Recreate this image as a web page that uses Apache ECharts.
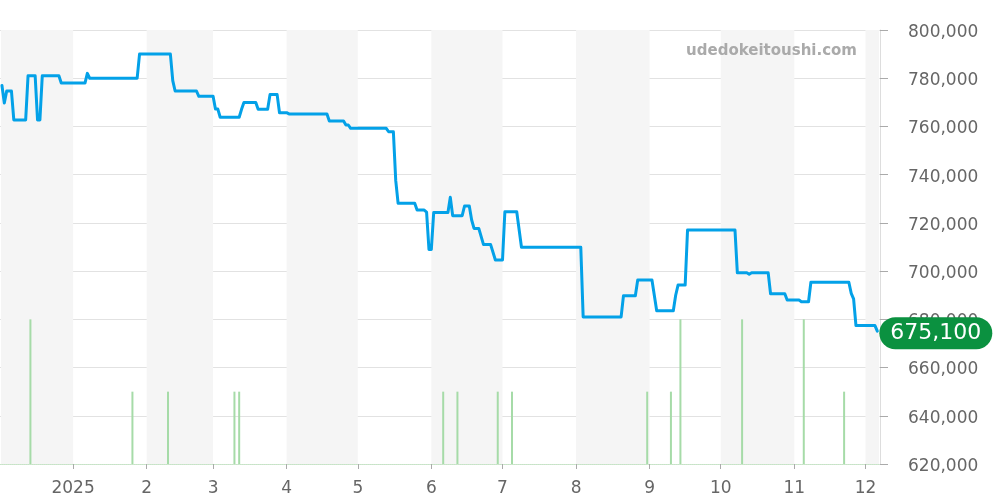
<!DOCTYPE html>
<html>
<head>
<meta charset="utf-8">
<script src="https://cdn.jsdelivr.net/npm/echarts@6/dist/echarts.min.js"></script>
<style>html,body{margin:0;padding:0;background:#fff}#c{width:1000px;height:500px}</style>
</head>
<body>
<div id="c"></div>
<script>
// ---- data ----
const priceDates = [
'2024-12-02','2024-12-03','2024-12-04','2024-12-06','2024-12-07','2024-12-12','2024-12-13','2024-12-16',
'2024-12-17','2024-12-18','2024-12-19','2024-12-26','2024-12-27','2025-01-06','2025-01-07','2025-01-08',
'2025-01-28','2025-01-29','2025-02-11','2025-02-12','2025-02-13','2025-02-22','2025-02-23','2025-03-01',
'2025-03-02','2025-03-03','2025-03-04','2025-03-12','2025-03-13','2025-03-14','2025-03-19','2025-03-20',
'2025-03-24','2025-03-25','2025-03-28','2025-03-29','2025-04-01','2025-04-02','2025-04-18','2025-04-19',
'2025-04-25','2025-04-26','2025-04-27','2025-04-28','2025-05-13','2025-05-14','2025-05-16','2025-05-17',
'2025-05-18','2025-05-25','2025-05-26','2025-05-29','2025-05-30','2025-05-31','2025-06-01','2025-06-02',
'2025-06-08','2025-06-09','2025-06-10','2025-06-14','2025-06-15','2025-06-17','2025-06-18','2025-06-19',
'2025-06-21','2025-06-23','2025-06-26','2025-06-28','2025-07-01','2025-07-02','2025-07-07','2025-07-09',
'2025-08-03','2025-08-04','2025-08-20','2025-08-21','2025-08-26','2025-08-27','2025-09-02','2025-09-04',
'2025-09-11','2025-09-12','2025-09-13','2025-09-16','2025-09-17','2025-10-07','2025-10-08','2025-10-12',
'2025-10-13','2025-10-14','2025-10-21','2025-10-22','2025-10-28','2025-10-29','2025-11-03','2025-11-04',
'2025-11-07','2025-11-08','2025-11-24','2025-11-25','2025-11-26','2025-11-27','2025-12-05','2025-12-06'
];
const priceValues = [
777000,769700,774700,774700,762700,762700,781000,781000,
762700,762700,781000,781000,778000,778000,782000,780000,
780000,790000,790000,779000,774700,774700,772500,772500,
767200,767200,763800,763800,767100,769900,769900,767100,
767100,773200,773200,765700,765700,765200,765200,762300,
762300,760600,760600,759200,759200,757800,757800,737500,
728100,728100,725300,725300,724500,709000,709000,724300,
724300,730600,723000,723000,727000,727000,721200,717700,
717700,711000,711000,704600,704600,724600,724600,709900,
709900,681000,681000,689800,689800,696300,696300,683600,
683600,690000,694200,694200,717000,717000,699300,699300,
698700,699300,699300,690600,690600,688000,688000,687300,
687300,695400,695400,690800,688500,677400,677400,675100
];
const volumeDates = ['2024-12-14','2025-01-26','2025-02-10','2025-03-10','2025-03-12','2025-06-06','2025-06-12',
  '2025-06-29','2025-07-05','2025-08-31','2025-09-10','2025-09-14','2025-10-10','2025-11-05','2025-11-22'];
const volumeValues = [2,1,1,1,1,1,1,1,1,1,1,2,2,2,1];
const shadedMonths = [
  ['2024-12-01','2025-01-01'],['2025-02-01','2025-03-01'],['2025-04-01','2025-05-01'],
  ['2025-06-01','2025-07-01'],['2025-08-01','2025-09-01'],['2025-10-01','2025-11-01'],['2025-12-01','2026-01-01']
];
const yTicks = {min: 620000, max: 800000, interval: 20000};
const axisMin = '2024-12-01T14:24:00Z';
const axisMax = '2025-12-06T17:00:00Z';
const watermark = 'udedokeitoushi.com';

// ---- chart ----
const fmt = v => Number(v).toLocaleString('en-US');
const tMin = +new Date(axisMin), tMax = +new Date(axisMax);
const bands = shadedMonths.map(([a, b]) => {
  const s = Math.max(+new Date(a + 'T00:00:00Z'), tMin);
  const e = Math.min(+new Date(b + 'T00:00:00Z'), tMax);
  return [{xAxis: s}, {xAxis: e}];
});
const ts = d => +new Date(d + 'T00:00:00Z');

const chart = echarts.init(document.getElementById('c'), null, {renderer: 'canvas'});
chart.setOption({
  animation: false,
  backgroundColor: '#fff',
  textStyle: {fontFamily: 'DejaVu Sans'},
  grid: {left: 0, right: 120, top: 30, bottom: 36, containLabel: false},
  xAxis: {
    type: 'time', min: tMin, max: tMax,
    minInterval: 28 * 86400000, maxInterval: 31 * 86400000,
    axisLine: {show: true, lineStyle: {color: '#c5e5c5', type: 'dotted', width: 1}},
    axisTick: {show: true, length: 5, lineStyle: {color: '#aaa'}},
    splitLine: {show: false},
    axisLabel: {
      color: '#666', fontSize: 17, margin: 16, showMinLabel: false, showMaxLabel: false,
      formatter: v => { const d = new Date(v); return d.getUTCMonth() === 0 ? String(d.getUTCFullYear()) : String(d.getUTCMonth() + 1); }
    }
  },
  yAxis: [{
    type: 'value', position: 'right', min: yTicks.min, max: yTicks.max, interval: yTicks.interval,
    axisLine: {show: true, lineStyle: {color: '#ddd'}},
    axisTick: {show: true, length: 8, lineStyle: {color: '#aaa'}},
    splitLine: {show: true, lineStyle: {color: '#e2e2e2'}},
    axisLabel: {
      color: '#666', fontSize: 17, margin: 28,
      formatter: v => '{a|' + fmt(v) + '}',
      rich: {a: {color: '#666', fontSize: 17, padding: [5, 0, 0, 0]}}
    }
  }, {
    type: 'value', show: false, min: 0, max: 6
  }],
  graphic: [{
    type: 'text', right: 143, top: 44, z: 100, zlevel: 0,
    style: {text: watermark, fill: '#aaa', font: 'bold 15px "DejaVu Sans"'}
  }],
  series: [{
    type: 'bar', yAxisIndex: 1, barWidth: 2, silent: true,
    itemStyle: {color: '#a6dba8'},
    data: volumeDates.map((d, i) => [ts(d), volumeValues[i]]),
    markArea: {silent: true, itemStyle: {color: '#f5f5f5'}, data: bands},
    z: 1
  }, {
    type: 'line', yAxisIndex: 0, showSymbol: false, symbol: 'none',
    lineStyle: {color: '#03a1e8', width: 3, join: 'round', cap: 'round'},
    data: priceDates.map((d, i) => [ts(d), priceValues[i]]),
    endLabel: {
      show: true, distance: 2, offset: [0, 2], formatter: p => fmt(p.value[1]),
      color: '#fff', fontSize: 22, backgroundColor: '#0b9140', borderRadius: 16,
      padding: [6, 11, 4, 11], fontFamily: 'DejaVu Sans'
    },
    z: 3
  }]
});
</script>
</body>
</html>
